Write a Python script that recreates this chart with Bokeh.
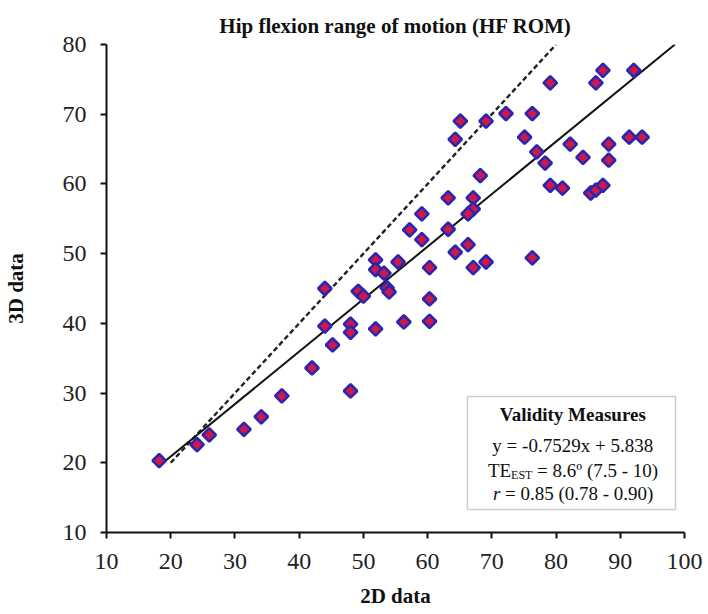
from bokeh.plotting import figure
from bokeh.models import Range1d, FixedTicker, BoxAnnotation, Label
from bokeh.embed import file_html
from bokeh.resources import INLINE
import numpy as np

# ---- data ----
x2d = [18.2, 24.1, 26.0, 31.4, 34.1, 37.3, 42.0, 44.0, 45.2, 48.0, 48.0, 48.0,
       51.9, 56.3, 60.3, 60.3, 44.0, 51.9, 51.9, 53.2, 55.4, 49.2, 50.0, 53.7,
       54.0, 79.1, 86.2, 87.3, 92.1, 65.1, 69.1, 72.2, 76.3, 64.3, 75.1, 77.0,
       78.3, 82.2, 84.2, 88.2, 88.2, 91.4, 93.4, 79.1, 81.0, 85.4, 86.2, 87.3,
       68.2, 63.2, 67.1, 67.1, 66.3, 59.1, 57.2, 59.1, 63.2, 66.3, 64.3, 69.1,
       67.1, 76.3, 60.3]
y3d = [20.3, 22.6, 24.0, 24.8, 26.6, 29.6, 33.6, 39.6, 36.9, 39.9, 38.7, 30.3,
       39.2, 40.2, 40.3, 43.5, 45.0, 49.1, 47.7, 47.2, 48.8, 44.6, 43.9, 45.1,
       44.5, 74.5, 74.5, 76.3, 76.3, 69.0, 69.0, 70.1, 70.1, 66.4, 66.7, 64.6,
       63.0, 65.7, 63.8, 65.7, 63.4, 66.7, 66.7, 59.8, 59.4, 58.7, 59.1, 59.8,
       61.2, 58.0, 58.0, 56.4, 55.7, 55.7, 53.4, 52.0, 53.5, 51.3, 50.2, 48.8,
       48.0, 49.4, 48.0]

fit_slope = 0.7529
fit_intercept = 5.838
fit_x = [18.0, 98.5]
fit_y = [fit_slope * v + fit_intercept for v in fit_x]
identity_x = [20, 80]
identity_y = [20, 80]

x_ticks = [10, 20, 30, 40, 50, 60, 70, 80, 90, 100]
y_ticks = [10, 20, 30, 40, 50, 60, 70, 80]

NB = "\u00a0"
title_text = "Hip flexion range of motion (HF ROM)"
box_title = "Validity Measures"
eq_text = "y = -0.7529x + 5.838"
te_main, te_sub, te_rest = "TE", "EST", NB + "= 8.6º (7.5 - 10)"
r_main, r_rest = "r", NB + "= 0.85 (0.78 - 0.90)"

SERIF = "Liberation Serif"

p = figure(width=708, height=614, output_backend="svg", toolbar_location=None,
           x_range=Range1d(10, 100), y_range=Range1d(10, 80),
           min_border_left=104, min_border_right=24, min_border_top=44,
           min_border_bottom=82, title=title_text)
p.background_fill_color = "white"
p.border_fill_color = "white"
p.outline_line_color = None
p.grid.visible = False

p.title.align = "center"
p.title.text_font = SERIF
p.title.text_font_style = "bold"
p.title.text_font_size = "21px"
p.title.text_color = "#111111"
p.title.standoff = 14

for ax, ticks in ((p.xaxis, x_ticks), (p.yaxis, y_ticks)):
    ax.ticker = FixedTicker(ticks=ticks)
    ax.minor_tick_line_color = None
    ax.major_tick_in = 0
    ax.major_tick_out = 6
    ax.axis_line_width = 2
    ax.major_tick_line_width = 2
    ax.axis_line_color = "#111111"
    ax.major_tick_line_color = "#111111"
    ax.major_label_text_font = SERIF
    ax.major_label_text_font_size = "24px"
    ax.major_label_text_color = "#222222"
    ax.axis_label_text_font = SERIF
    ax.axis_label_text_font_style = "bold"
    ax.axis_label_text_font_size = "21px"
    ax.axis_label_text_color = "#111111"

p.xaxis.axis_label = "2D data"
p.yaxis.axis_label = "3D data"
p.xaxis.major_label_standoff = 15
p.yaxis.major_label_standoff = 14
p.xaxis.axis_label_standoff = 12
p.yaxis.axis_label_standoff = 32

p.line(identity_x, identity_y, line_color="#222222", line_width=2.4, line_dash="5 3")
p.line(fit_x, fit_y, line_color="#111111", line_width=2)

p.scatter(x2d, y3d, marker="square", angle=np.pi / 4, size=9.5,
          fill_color="#d01848", line_color="#2a26b0", line_width=2.6)

# validity measures box
p.add_layout(BoxAnnotation(left=66.2, right=98.6, bottom=13.3, top=29.5,
                           fill_color="white", fill_alpha=1.0,
                           line_color="#555555", line_width=1.5))

def lab(x, y, text, size="19px", style="normal", align="left"):
    p.add_layout(Label(x=x, y=y, text=text, text_font=SERIF, text_font_size=size,
                       text_font_style=style, text_align=align,
                       text_baseline="middle", text_color="#111111"))

lab(82.6, 26.9, box_title, style="bold", align="center")
lab(82.6, 22.5, eq_text, align="center")
lab(69.4, 18.9, te_main)
lab(73.0, 18.2, te_sub, size="12px")
lab(76.3, 18.9, te_rest)
lab(70.2, 15.6, r_main, style="italic")
lab(71.3, 15.6, r_rest)

open("out.html", "w").write(file_html(p, INLINE))
